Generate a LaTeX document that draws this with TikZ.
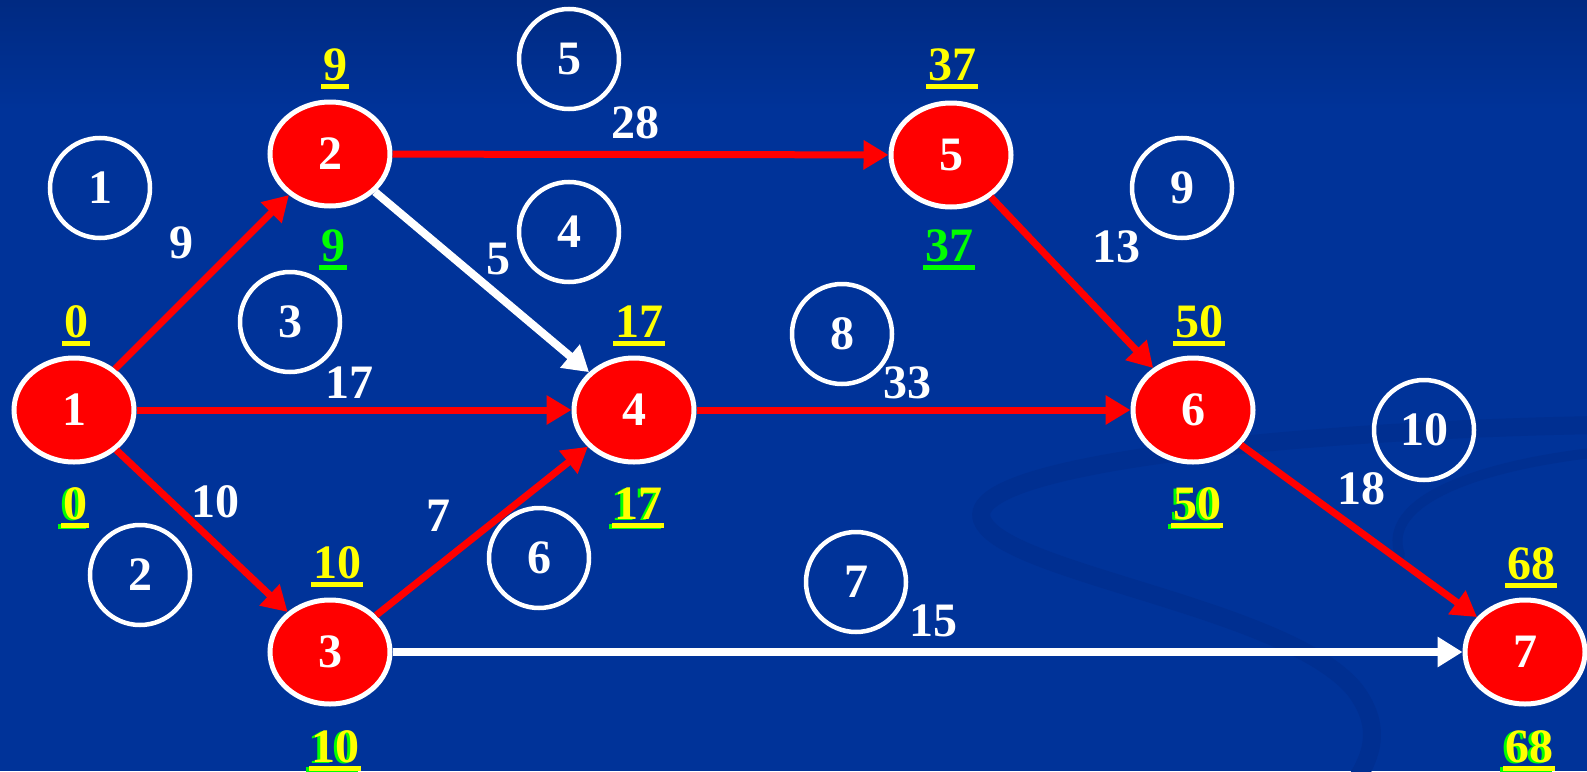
\documentclass[tikz,border=0pt]{standalone}
\usepackage{fontspec}
\setmainfont{Liberation Serif}
\usetikzlibrary{arrows.meta,shapes.geometric}
\definecolor{bgblue}{RGB}{0,51,153}
\definecolor{bgtop}{RGB}{0,42,130}
\definecolor{swirlc}{RGB}{0,47,145}
\definecolor{nodered}{RGB}{255,0,0}
\definecolor{ylw}{RGB}{255,255,0}
\definecolor{grn}{RGB}{0,255,0}
\newcommand\numfont{\fontsize{48}{50}\selectfont\bfseries}
\tikzset{
  evt/.style={ellipse, fill=nodered, draw=white, line width=5pt, minimum width=120pt, minimum height=104pt, inner sep=0pt, text=white, font=\numfont},
  act/.style={circle, draw=white, line width=4.5pt, minimum size=100pt, inner sep=0pt, text=white, font=\numfont},
  dur/.style={text=white, font=\numfont, inner sep=0pt},
  val/.style={font=\numfont, inner sep=0pt, anchor=base},
  crit/.style={draw=nodered, line width=7pt, -{Triangle[length=25pt,width=28pt]}},
  noncrit/.style={draw=white, line width=8pt, -{Triangle[length=25pt,width=29pt]}},
  uline/.style={line width=5pt},
}
% plain underlined value
\newcommand\vlab[5]{%
  \node[val, text=#5] (#1) at (#2,#3) {#4};
  \draw[uline, #5] ([xshift=-1.5pt,yshift=-6pt]#1.base west) -- ([xshift=1.5pt,yshift=-6pt]#1.base east);
}
% yellow value with green shadow
\newcommand\svlab[4]{%
  \node[val, text=grn, xshift=-3pt, yshift=-1pt] (#1g) at (#2,#3) {#4};
  \draw[uline, grn] ([xshift=-1.5pt,yshift=-6pt]#1g.base west) -- ([xshift=1.5pt,yshift=-6pt]#1g.base east);
  \node[val, text=ylw] (#1) at (#2,#3) {#4};
  \draw[uline, ylw] ([xshift=-1.5pt,yshift=-6pt]#1.base west) -- ([xshift=1.5pt,yshift=-6pt]#1.base east);
}
\begin{document}
\begin{tikzpicture}[x=1pt, y=-1pt]
  % background
  \useasboundingbox (0,0) rectangle (1587,771);
  \fill[bgblue] (0,0) rectangle (1587,771);
  \shade[top color=bgtop, bottom color=bgblue] (0,0) rectangle (1587,110);
  % swirl
  \draw[swirlc, line width=18pt, line cap=round]
    (1600,425) .. controls (1300,430) and (940,465) .. (985,525)
    .. controls (1020,575) and (1290,610) .. (1355,690)
    .. controls (1385,730) and (1370,760) .. (1350,790);
  \draw[swirlc, line width=10pt, line cap=round]
    (1600,452) .. controls (1480,465) and (1380,500) .. (1400,555);

  % events
  \node[evt] (n1) at (74,410) {1};
  \node[evt] (n2) at (330,154) {2};
  \node[evt] (n3) at (330,652) {3};
  \node[evt] (n4) at (634,410) {4};
  \node[evt] (n5) at (951,155) {5};
  \node[evt] (n6) at (1193,410) {6};
  \node[evt] (n7) at (1525,652) {7};

  % activities
  \draw[crit] (n1) -- (n2);
  \draw[crit] (n1) -- (n4);
  \draw[crit] (n1) -- (n3);
  \draw[crit] (n2) -- (n5);
  \draw[noncrit] (n2) -- (n4);
  \draw[crit] (n3) -- (n4);
  \draw[noncrit] (n3) -- (n7);
  \draw[crit] (n4) -- (n6);
  \draw[crit] (n5) -- (n6);
  \draw[crit] (n6) -- (n7);

  % durations
  \node[dur] (d12) at (181,243) {9};
  \node[dur] (d14) at (349,383) {17};
  \node[dur] (d13) at (215,502) {10};
  \node[dur] (d25) at (635,123) {28};
  \node[dur] (d24) at (498,259) {5};
  \node[dur] (d34) at (438,516) {7};
  \node[dur] (d37) at (933,621) {15};
  \node[dur] (d46) at (907,383) {33};
  \node[dur] (d56) at (1116,247) {13};
  \node[dur] (d67) at (1361,489) {18};

  % activity numbers
  \node[act] (a1) at (100,188) {1};
  \node[act] (a2) at (140,575) {2};
  \node[act] (a3) at (290,322) {3};
  \node[act] (a4) at (569,232) {4};
  \node[act] (a5) at (569,59) {5};
  \node[act] (a6) at (539,558) {6};
  \node[act] (a7) at (856,582) {7};
  \node[act] (a8) at (842,334) {8};
  \node[act] (a9) at (1182,188) {9};
  \node[act] (a10) at (1424,430) {10};

  % earliest times (top)
  \vlab{e1}{76}{337}{0}{ylw}
  \vlab{e2}{335}{80}{9}{ylw}
  \vlab{e3}{337}{578}{10}{ylw}
  \vlab{e4}{639}{337}{17}{ylw}
  \vlab{e5}{952}{80}{37}{ylw}
  \vlab{e6}{1199}{337}{50}{ylw}
  \vlab{e7}{1531}{579}{68}{ylw}
  % latest times (bottom)
  \svlab{l1}{75}{519}{0}
  \vlab{l2}{333}{261}{9}{grn}
  \svlab{l3}{335}{762}{10}
  \svlab{l4}{638}{519}{17}
  \vlab{l5}{949}{261}{37}{grn}
  \svlab{l6}{1197}{519}{50}
  \svlab{l7}{1529}{762}{68}
\end{tikzpicture}
\end{document}
